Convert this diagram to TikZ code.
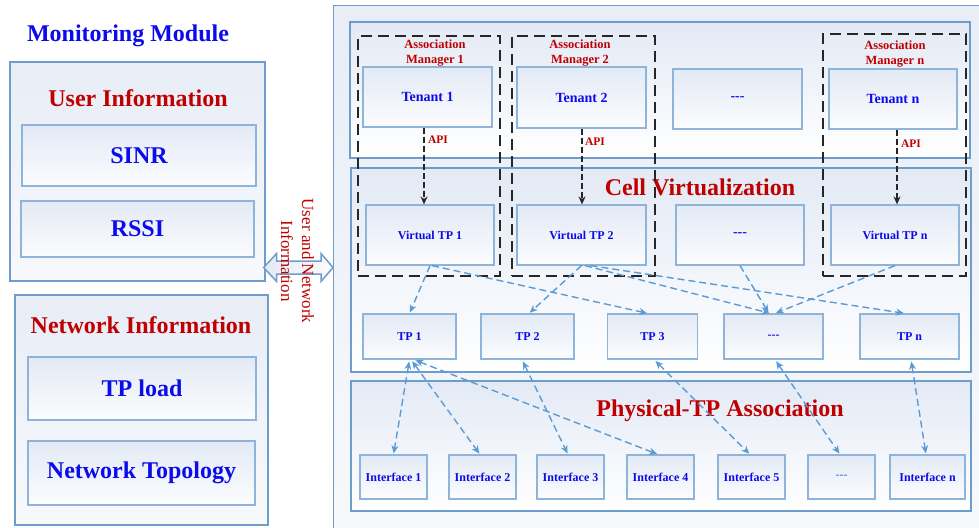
\documentclass[tikz,border=0pt]{standalone}
\usepackage{fontspec}
\setmainfont{Liberation Serif}
\usetikzlibrary{arrows.meta,shadings,calc}
\definecolor{bord}{HTML}{8EB4DA}
\definecolor{obord}{HTML}{6F9DCB}
\definecolor{topc}{HTML}{E3EAF5}
\definecolor{botc}{HTML}{FBFCFE}
\definecolor{maintop}{HTML}{E8EDF6}
\definecolor{mainbot}{HTML}{F7F9FC}
\definecolor{tblue}{HTML}{0B0BEB}
\definecolor{tred}{HTML}{C00000}
\definecolor{lblue}{HTML}{5B9BD5}
\begin{document}
\begin{tikzpicture}[x=1pt,y=-1pt,
  ibox/.style={draw=bord, line width=1.2pt, top color=topc, bottom color=botc,
    inner sep=0pt, text=tblue, font=\bfseries\fontsize{12}{14}\selectfont},
  bigbox/.style={ibox, font=\bfseries\fontsize{24}{28}\selectfont},
  obox/.style={draw=obord, line width=1.3pt, top color=maintop, bottom color=mainbot, inner sep=0pt},
  layer/.style={draw=obord, line width=1.3pt, top color=topc, bottom color=white, inner sep=0pt},
  amgr/.style={draw=black!85, line width=2.3pt, dash pattern=on 11pt off 6pt, inner sep=0pt},
  bigtitle/.style={text=tred, font=\bfseries\fontsize{24}{28}\selectfont, inner sep=0pt},
  amlabel/.style={text=tred, font=\bfseries\fontsize{12.5}{15}\selectfont, align=center, inner sep=0pt},
  apilabel/.style={text=tred, font=\bfseries\fontsize{11.5}{13}\selectfont, inner sep=0pt},
  apiarrow/.style={draw=black!85, line width=1.4pt, dash pattern=on 6pt off 3pt,
    -{Stealth[length=8pt,width=7pt]}},
  link/.style={draw=lblue, line width=1.4pt, dash pattern=on 7pt off 4pt,
    -{Stealth[length=8pt,width=7pt]}, shorten >=1pt},
  dlink/.style={link, {Stealth[length=8pt,width=7pt]}-{Stealth[length=8pt,width=7pt]}, shorten <=2pt, shorten >=1pt}
]
\useasboundingbox (0,0) rectangle (979,527);
\fill[white] (0,0) rectangle (979,527);

% ---------- left column ----------
\node[text=tblue, font=\bfseries\fontsize{24}{28}\selectfont, inner sep=0pt] (mm) at (128,35.5) {Monitoring Module};

\node[obox, minimum width=255, minimum height=219] (ui) at (137.5,171.5) {};
\node[bigtitle] (uit) at (138,98) {User Information};
\node[bigbox, minimum width=234, minimum height=61] (sinr) at (139,155.5) {SINR};
\node[bigbox, minimum width=233, minimum height=56] (rssi) at (137.5,229) {RSSI};

\node[obox, minimum width=253, minimum height=230] (ni) at (141.5,410) {};
\node[bigtitle] (nit) at (141,325) {Network Information};
\node[bigbox, minimum width=228, minimum height=63] (tpl) at (142,388.5) {TP load};
\node[bigbox, minimum width=227, minimum height=64] (topo) at (141.5,473) {Network Topology};

% ---------- right main area ----------
\node[obox, anchor=north west, minimum width=670, minimum height=540] (main) at (333,5) {};

\node[layer, minimum width=620, minimum height=136] (tl) at (660,90) {};
\node[layer, minimum width=620, minimum height=204] (cv) at (661,270) {};
\node[layer, minimum width=620, minimum height=130] (pa) at (661,446) {};

\node[bigtitle] (cvt) at (700,187) {Cell Virtualization};
\node[bigtitle] (pat) at (720,411) {Physical-TP Association};

% association managers
\node[amgr, minimum width=142, minimum height=240] (am1) at (429,156) {};
\node[amgr, minimum width=143, minimum height=240] (am2) at (583.5,156) {};
\node[amgr, minimum width=143, minimum height=242] (amn) at (894.5,155) {};

% tenants
\node[ibox, font=\bfseries\fontsize{14}{16}\selectfont, minimum width=129, minimum height=60] (t1) at (427.5,97) {Tenant 1};
\node[ibox, font=\bfseries\fontsize{14}{16}\selectfont, minimum width=129, minimum height=61] (t2) at (581.5,97.5) {Tenant 2};
\node[ibox, font=\bfseries\fontsize{14}{16}\selectfont, minimum width=129, minimum height=60] (td) at (737.5,99) {-{}-{}-};
\node[ibox, font=\bfseries\fontsize{14}{16}\selectfont, minimum width=128, minimum height=60] (tn) at (893,99) {Tenant n};

\node[amlabel] (am1l) at (435,53.5) {Association\\Manager 1};
\node[amlabel] (am2l) at (580,53.5) {Association\\Manager 2};
\node[amlabel] (amnl) at (895,54.5) {Association\\Manager n};

% virtual TPs
\node[ibox, minimum width=128, minimum height=60] (v1) at (430,235) {Virtual TP 1};
\node[ibox, minimum width=129, minimum height=60] (v2) at (581.5,235) {Virtual TP 2};
\node[ibox, font=\bfseries\fontsize{14}{16}\selectfont, minimum width=128, minimum height=60] (vd) at (740,235) {-{}-{}-};
\node[ibox, minimum width=128, minimum height=60] (vn) at (895,235) {Virtual TP n};

% TPs
\node[ibox, minimum width=93, minimum height=45] (p1) at (409.5,336.5) {TP 1};
\node[ibox, minimum width=93, minimum height=45] (p2) at (527.5,336.5) {TP 2};
\node[ibox, minimum width=90, minimum height=45] (p3) at (652.5,336.5) {TP 3};
\node[ibox, minimum width=99, minimum height=45] (pd) at (773.5,336.5) {-{}-{}-};
\node[ibox, minimum width=99, minimum height=45] (pn) at (909.5,336.5) {TP n};

% interfaces
\node[ibox, minimum width=67, minimum height=44] (i1) at (393.5,477) {Interface 1};
\node[ibox, minimum width=67, minimum height=44] (i2) at (482.5,477) {Interface 2};
\node[ibox, minimum width=67, minimum height=44] (i3) at (570.5,477) {Interface 3};
\node[ibox, minimum width=67, minimum height=44] (i4) at (660.5,477) {Interface 4};
\node[ibox, minimum width=67, minimum height=44] (i5) at (751.5,477) {Interface 5};
\node[ibox, minimum width=67, minimum height=44, text=lblue!80!blue] (id) at (841.5,477) {-{}-{}-};
\node[ibox, minimum width=75, minimum height=44] (in) at (927.5,477) {Interface n};

% API arrows
\draw[apiarrow] ([xshift=-3.5pt]t1.south) -- ([xshift=-3.5pt]t1.south |- v1.north);
\draw[apiarrow] ([xshift=0.5pt]t2.south) -- ([xshift=0.5pt]t2.south |- v2.north);
\draw[apiarrow] ([xshift=4pt]tn.south) -- ([xshift=4pt]tn.south |- vn.north);
\node[apilabel] (api1) at (438,140) {API};
\node[apilabel] (api2) at (595,142) {API};
\node[apilabel] (apin) at (911,144) {API};

% virtual TP -> TP
\draw[link] (v1.south) -- (p1.north);
\draw[link] ([xshift=2pt]v1.south) -- ([xshift=-4.5pt]p3.north);
\draw[link] (v2.south) -- ([xshift=1.5pt]p2.north);
\draw[link] ([xshift=3.5pt]v2.south) -- ([xshift=-3pt]pd.north);
\draw[link] ([xshift=9pt]v2.south) -- ([xshift=-4.5pt]pn.north);
\draw[link] (vd.south) -- ([xshift=-4.5pt]pd.north);
\draw[link] (vn.south) -- ([xshift=1.5pt]pd.north);

% TP <-> interfaces
\draw[dlink] (p1.south) -- (i1.north);
\draw[dlink] ([xshift=1.5pt]p1.south) -- ([xshift=-2.5pt]i2.north);
\draw[dlink] ([xshift=4pt]p1.south) -- ([xshift=-2.5pt]i4.north);
\draw[dlink] ([xshift=-5.5pt]p2.south) -- ([xshift=-2.5pt]i3.north);
\draw[dlink] ([xshift=1.5pt]p3.south) -- ([xshift=-1.5pt]i5.north);
\draw[dlink] ([xshift=1.5pt]pd.south) -- ([xshift=-1.5pt]id.north);
\draw[dlink] ([xshift=1.5pt]pn.south) -- ([xshift=-1.5pt]in.north);

% hollow double arrow between monitoring module and main area
\coordinate (dal) at (ui.east |- 0,267.5);
\coordinate (dar) at (main.west |- 0,267.5);
\draw[draw=obord, line width=1.5pt, left color=topc, right color=botc, line join=miter]
  ($(dal)+(-2,0)$) -- ($(dal)+(11,-14)$) -- ($(dal)+(11,-6.5)$) --
  ($(dar)+(-12,-6.5)$) -- ($(dar)+(-12,-14)$) -- (dar) --
  ($(dar)+(-12,14)$) -- ($(dar)+(-12,6.5)$) --
  ($(dal)+(11,6.5)$) -- ($(dal)+(11,14)$) -- cycle;
\node[rotate=-90, text=tred, align=center, inner sep=0pt,
  font=\fontsize{17}{21}\selectfont] (uni) at (297.5,261) {User and Network\\Information};
\end{tikzpicture}
\end{document}
